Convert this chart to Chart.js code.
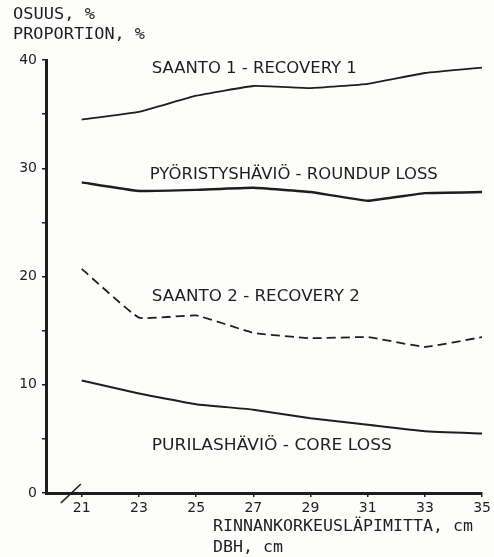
<!DOCTYPE html>
<html>
<head>
<meta charset="utf-8">
<script src="https://cdn.jsdelivr.net/npm/chart.js@4"></script>
<style>
    html, body { margin: 0; padding: 0; background: #fdfdfc; }
    #wrap { width: 494px; height: 557px; }
</style>
</head>
<body>
<div id="wrap"><canvas id="proportionChart" width="494" height="557"></canvas></div>
<script>
const dbh = [21, 23, 25, 27, 29, 31, 33, 35];
const recovery1 = [34.5, 35.2, 36.7, 37.6, 37.4, 37.8, 38.8, 39.3];
const roundupLoss = [28.7, 27.9, 28.0, 28.2, 27.8, 27.0, 27.7, 27.8];
const recovery2 = [20.7, 16.2, 16.4, 14.8, 14.3, 14.4, 13.5, 14.4];
const coreLoss = [10.4, 9.2, 8.2, 7.7, 6.9, 6.3, 5.7, 5.5];
const xTicks = [21, 23, 25, 27, 29, 31, 33, 35];
const yTicks = [0, 5, 10, 15, 20, 25, 30, 35, 40];

const ink = '#1e1e1e';

function points(values) {
    return dbh.map((d, i) => ({ x: d, y: values[i] }));
}

// draw text with its left edge at x, squeezed to a given width
function fitText(ctx, text, x, y, font, width) {
    ctx.save();
    ctx.font = font;
    ctx.textBaseline = 'middle';
    ctx.textAlign = 'left';
    const w = ctx.measureText(text).width;
    ctx.translate(x, y);
    if (width) ctx.scale(width / w, 1);
    ctx.fillText(text, 0, 0);
    ctx.restore();
}

const textPlugin = {
    id: 'textPlugin',
    afterDraw(chart) {
        const ctx = chart.ctx;
        const xs = chart.scales.x;
        const ys = chart.scales.y;
        ctx.fillStyle = ink;
        const f = '16px "DejaVu Sans"';
        const lx = xs.getPixelForValue(23.45);
        fitText(ctx, 'SAANTO 1 - RECOVERY 1', lx, ys.getPixelForValue(39.2), f, 205);
        fitText(ctx, 'PYÖRISTYSHÄVIÖ - ROUNDUP LOSS', lx - 2, ys.getPixelForValue(29.35), f, 288);
        fitText(ctx, 'SAANTO 2 - RECOVERY 2', lx, ys.getPixelForValue(18.1), f, 208);
        fitText(ctx, 'PURILASHÄVIÖ - CORE LOSS', lx, ys.getPixelForValue(4.4), f, 240);

        const mono = '15px "DejaVu Sans Mono"';
        fitText(ctx, 'OSUUS, %', 13, 15, mono, 82);
        fitText(ctx, 'PROPORTION, %', 13, 35, mono, 132);
        fitText(ctx, 'RINNANKORKEUSLÄPIMITTA, cm', 213, 527, mono, 260);
        fitText(ctx, 'DBH, cm', 213, 548, mono, 70);

        // axis break mark
        const bx = xs.getPixelForValue(20.62);
        const by = ys.getPixelForValue(0);
        ctx.save();
        ctx.strokeStyle = ink;
        ctx.lineWidth = 1.6;
        ctx.beginPath();
        ctx.moveTo(bx - 10, by + 10);
        ctx.lineTo(bx + 10, by - 9);
        ctx.stroke();
        ctx.restore();
    }
};

const ctx = document.getElementById('proportionChart').getContext('2d');

const lineStyle = {
    borderColor: ink,
    backgroundColor: ink,
    pointRadius: 0,
    fill: false,
    tension: 0.1
};

new Chart(ctx, {
    type: 'line',
    data: {
        datasets: [
            { label: 'SAANTO 1 - RECOVERY 1', data: points(recovery1), borderWidth: 1.8, ...lineStyle },
            { label: 'PYÖRISTYSHÄVIÖ - ROUNDUP LOSS', data: points(roundupLoss), borderWidth: 2.4, ...lineStyle },
            { label: 'SAANTO 2 - RECOVERY 2', data: points(recovery2), borderWidth: 1.8, borderDash: [9, 5], ...lineStyle },
            { label: 'PURILASHÄVIÖ - CORE LOSS', data: points(coreLoss), borderWidth: 2, ...lineStyle }
        ]
    },
    options: {
        responsive: false,
        animation: false,
        layout: {
            padding: { top: 60, right: 10, left: 0, bottom: 0 }
        },
        plugins: {
            legend: { display: false },
            tooltip: { enabled: false }
        },
        scales: {
            x: {
                type: 'linear',
                min: 19.75,
                max: 35,
                afterBuildTicks: scale => {
                    scale.ticks = xTicks.map(v => ({ value: v }));
                },
                afterFit: scale => { scale.height = 64; },
                grid: { drawOnChartArea: false, drawTicks: true, tickLength: 4, color: ink, lineWidth: 1.5 },
                border: { display: true, color: ink, width: 3 },
                ticks: {
                    color: ink,
                    padding: 3,
                    maxRotation: 0,
                    font: { family: 'DejaVu Sans', size: 14 }
                }
            },
            y: {
                min: 0,
                max: 40,
                afterBuildTicks: scale => {
                    scale.ticks = yTicks.map(v => ({ value: v }));
                },
                afterFit: scale => { scale.width = 46; },
                grid: { drawOnChartArea: false, drawTicks: true, tickLength: 4, color: ink, lineWidth: 1.5 },
                border: { display: true, color: ink, width: 3 },
                ticks: {
                    color: ink,
                    padding: 5,
                    font: { family: 'DejaVu Sans', size: 14 },
                    callback: v => (v % 10 === 0 ? v : '')
                }
            }
        }
    },
    plugins: [textPlugin]
});
</script>
</body>
</html>
